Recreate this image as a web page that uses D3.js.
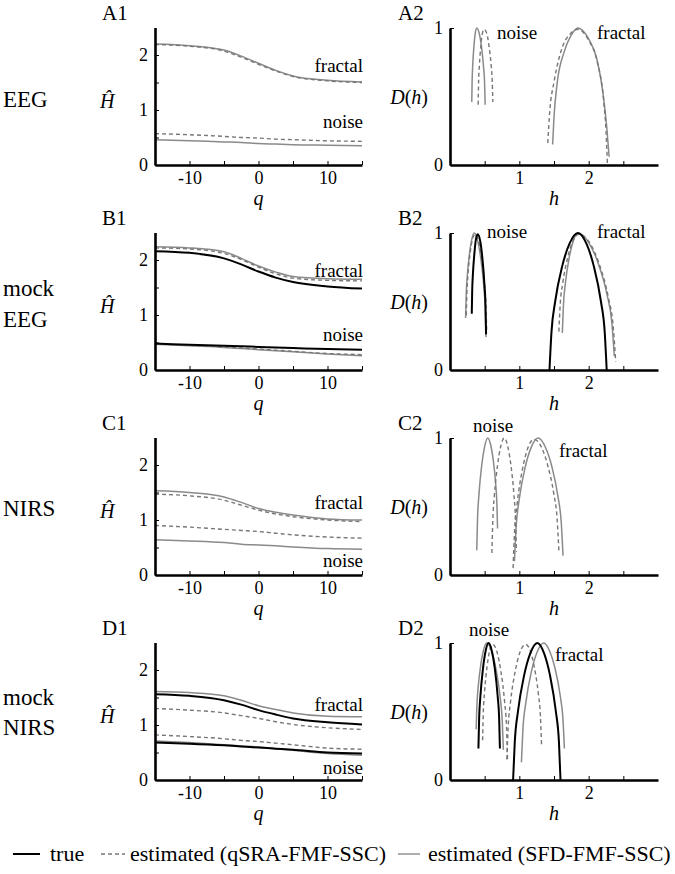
<!DOCTYPE html>
<html>
<head>
<meta charset="utf-8">
<script src="https://cdn.jsdelivr.net/npm/d3@7"></script>
<style>
  body { margin: 0; background: #fff; }
</style>
</head>
<body>
<div id="chart"></div>
<script>
// q grid shared by all generalized Hurst curves
const qValues = [-15, -10, -5, -2.5, 0, 2.5, 5, 10, 15];

// A: EEG
const eegFractalSfd  = [2.20, 2.17, 2.09, 1.98, 1.85, 1.72, 1.62, 1.54, 1.51];
const eegFractalQsra = [2.19, 2.16, 2.07, 1.96, 1.83, 1.71, 1.61, 1.53, 1.50];
const eegNoiseQsra   = [0.57, 0.55, 0.52, 0.50, 0.49, 0.47, 0.46, 0.44, 0.43];
const eegNoiseSfd    = [0.46, 0.44, 0.42, 0.41, 0.39, 0.38, 0.37, 0.36, 0.35];

// B: mock EEG
const mockEegFractalSfd  = [2.24, 2.22, 2.15, 2.03, 1.89, 1.78, 1.70, 1.66, 1.65];
const mockEegFractalQsra = [2.22, 2.20, 2.12, 2.01, 1.87, 1.75, 1.67, 1.63, 1.62];
const mockEegFractalTrue = [2.16, 2.13, 2.03, 1.92, 1.79, 1.68, 1.60, 1.52, 1.48];
const mockEegNoiseTrue   = [0.48, 0.46, 0.44, 0.43, 0.42, 0.41, 0.40, 0.38, 0.37];
const mockEegNoiseSfd    = [0.47, 0.44, 0.41, 0.39, 0.37, 0.35, 0.33, 0.29, 0.26];
const mockEegNoiseQsra   = [0.48, 0.45, 0.42, 0.40, 0.38, 0.36, 0.34, 0.30, 0.28];

// C: NIRS
const nirsFractalSfd  = [1.53, 1.50, 1.42, 1.32, 1.21, 1.14, 1.09, 1.02, 1.00];
const nirsFractalQsra = [1.47, 1.44, 1.36, 1.27, 1.18, 1.11, 1.06, 1.00, 0.97];
const nirsNoiseQsra   = [0.90, 0.87, 0.83, 0.81, 0.79, 0.76, 0.73, 0.69, 0.67];
const nirsNoiseSfd    = [0.64, 0.62, 0.59, 0.56, 0.545, 0.53, 0.51, 0.48, 0.47];

// D: mock NIRS
const mockNirsFractalSfd  = [1.61, 1.59, 1.53, 1.45, 1.35, 1.28, 1.22, 1.16, 1.15];
const mockNirsFractalTrue = [1.56, 1.53, 1.45, 1.37, 1.27, 1.19, 1.12, 1.05, 1.01];
const mockNirsFractalQsra = [1.30, 1.27, 1.22, 1.17, 1.12, 1.06, 1.01, 0.95, 0.92];
const mockNirsNoiseQsra   = [0.82, 0.79, 0.75, 0.72, 0.70, 0.67, 0.64, 0.58, 0.56];
const mockNirsNoiseTrue   = [0.68, 0.66, 0.63, 0.61, 0.59, 0.57, 0.55, 0.50, 0.48];
const mockNirsNoiseSfd    = [0.71, 0.68, 0.64, 0.62, 0.60, 0.57, 0.54, 0.48, 0.45];

// multifractal spectra, [h, D(h)] pairs
const eegNoiseSfdSpec = [[.314,.46],[.319,.61],[.328,.73],[.346,.87],[.364,.96],[.386,1],[.422,.96],[.453,.87],[.483,.72],[.499,.60],[.507,.44]];
const eegNoiseQsraSpec = [[.406,.44],[.412,.60],[.423,.72],[.445,.87],[.467,.96],[.493,.99],[.531,.96],[.562,.87],[.593,.73],[.609,.61],[.618,.46]];
const eegFractalSfdSpec = [[1.48,.15],[1.50,.35],[1.546,.60],[1.643,.82],[1.74,.94],[1.845,1],[2.0,.92],[2.12,.77],[2.22,.47],[2.26,.28],[2.295,.06]];
const eegFractalQsraSpec = [[1.41,.16],[1.44,.40],[1.498,.60],[1.62,.86],[1.74,.96],[1.845,.99],[2.0,.91],[2.12,.76],[2.22,.45],[2.25,.25],[2.27,.01]];

const mockEegNoiseTrueSpec = [[.314,.41],[.32,.575],[.331,.705],[.353,.858],[.374,.953],[.40,.99],[.436,.941],[.466,.822],[.496,.63],[.512,.467],[.52,.26]];
const mockEegNoiseSfdSpec = [[.225,.38],[.234,.554],[.25,.69],[.281,.851],[.3125,.95],[.35,1],[.401,.939],[.4435,.818],[.486,.62],[.508,.453],[.52,.24]];
const mockEegNoiseQsraSpec = [[.235,.40],[.244,.568],[.26,.70],[.291,.856],[.3225,.952],[.36,.99],[.411,.942],[.4535,.825],[.496,.635],[.518,.474],[.53,.27]];
const mockEegFractalTrueSpec = [[1.435,0],[1.464,.28],[1.517,.50],[1.6195,.76],[1.722,.92],[1.845,1],[1.9695,.92],[2.073,.76],[2.177,.50],[2.231,.28],[2.26,0]];
const mockEegFractalSfdSpec = [[1.62,.27],[1.636,.474],[1.665,.635],[1.721,.825],[1.7775,.942],[1.845,1],[2.0025,.928],[2.134,.784],[2.265,.55],[2.333,.352],[2.37,.10]];
const mockEegFractalQsraSpec = [[1.57,.28],[1.59,.482],[1.628,.64],[1.7005,.827],[1.773,.942],[1.86,.99],[2.019,.925],[2.1515,.774],[2.284,.53],[2.353,.323],[2.39,.06]];

const nirsNoiseSfdSpec = [[.386,.18],[.397,.41],[.418,.59],[.458,.803],[.498,.934],[.546,1],[.588,.947],[.623,.842],[.658,.67],[.676,.525],[.686,.34]];
const nirsNoiseQsraSpec = [[.604,.16],[.617,.395],[.64,.58],[.685,.798],[.729,.933],[.783,1],[.835,.934],[.879,.80],[.922,.585],[.945,.402],[.957,.17]];
const nirsFractalSfdSpec = [[.93,.10],[.954,.352],[.998,.55],[1.083,.784],[1.168,.928],[1.27,1],[1.378,.931],[1.468,.794],[1.558,.57],[1.605,.381],[1.63,.14]];
const nirsFractalQsraSpec = [[.91,.05],[.931,.316],[.97,.525],[1.045,.772],[1.12,.924],[1.21,.99],[1.318,.934],[1.408,.803],[1.498,.59],[1.545,.41],[1.57,.18]];

const mockNirsNoiseTrueSpec = [[.41,.23],[.42,.446],[.439,.615],[.476,.815],[.512,.938],[.556,1],[.605,.938],[.646,.815],[.687,.615],[.709,.446],[.72,.23]];
const mockNirsNoiseSfdSpec = [[.377,.37],[.388,.546],[.408,.685],[.446,.849],[.484,.95],[.53,1],[.602,.938],[.662,.813],[.722,.61],[.753,.438],[.77,.22]];
const mockNirsNoiseQsraSpec = [[.47,.29],[.48,.489],[.499,.645],[.535,.83],[.5715,.943],[.615,.99],[.6795,.932],[.733,.796],[.787,.575],[.815,.388],[.83,.15]];
const mockNirsFractalTrueSpec = [[.91,0],[.9345,.28],[.98,.50],[1.0675,.76],[1.155,.92],[1.26,1],[1.36,.92],[1.4437,.76],[1.527,.50],[1.571,.28],[1.594,0]];
const mockNirsFractalSfdSpec = [[1.03,.13],[1.052,.374],[1.094,.565],[1.174,.791],[1.254,.93],[1.35,1],[1.44,.938],[1.515,.815],[1.59,.615],[1.629,.446],[1.65,.23]];
const mockNirsFractalQsraSpec = [[.82,.15],[.839,.388],[.874,.575],[.9415,.796],[1.009,.932],[1.09,.99],[1.159,.941],[1.2165,.822],[1.274,.63],[1.304,.467],[1.32,.26]];

// tick values
const qTicks = [-10, -5, 0, 5, 10, 15];
const qTickLabels = [-10, 0, 10];
const hurstTicks = [0, 0.5, 1, 1.5, 2];
const hurstTickLabels = [0, 1, 2];
const hTicks = [0.5, 1, 1.5, 2, 2.5];
const hTickLabels = [1, 2];
const dTicks = [0, 1];

const legendItems = ["true", "estimated (qSRA-FMF-SSC)", "estimated (SFD-FMF-SSC)"];

// line styles per estimator
const styles = {
    "true": {stroke: "#000", width: 2, dash: null},
    "qsra": {stroke: "#777", width: 1.4, dash: "4,3"},
    "sfd":  {stroke: "#8a8a8a", width: 1.5, dash: null}
};

// rows of the figure (layout in px relative to row top)
const rows = [
    {tag: "A", name: ["EEG"], nameY: [107],
     hurst: [["sfd", eegFractalSfd], ["qsra", eegFractalQsra], ["qsra", eegNoiseQsra], ["sfd", eegNoiseSfd]],
     spec: [["sfd", eegNoiseSfdSpec], ["qsra", eegNoiseQsraSpec], ["sfd", eegFractalSfdSpec], ["qsra", eegFractalQsraSpec]],
     l1: {fractal: 72, noise: 128}, l2: {noise: [497, 39], fractal: [597, 39]}},
    {tag: "B", name: ["mock", "EEG"], nameY: [91, 122],
     hurst: [["sfd", mockEegFractalSfd], ["qsra", mockEegFractalQsra], ["true", mockEegFractalTrue],
             ["sfd", mockEegNoiseSfd], ["qsra", mockEegNoiseQsra], ["true", mockEegNoiseTrue]],
     spec: [["sfd", mockEegNoiseSfdSpec], ["qsra", mockEegNoiseQsraSpec], ["true", mockEegNoiseTrueSpec],
            ["sfd", mockEegFractalSfdSpec], ["qsra", mockEegFractalQsraSpec], ["true", mockEegFractalTrueSpec]],
     l1: {fractal: 72, noise: 136}, l2: {noise: [487, 33], fractal: [597, 33]}},
    {tag: "C", name: ["NIRS"], nameY: [106],
     hurst: [["sfd", nirsFractalSfd], ["qsra", nirsFractalQsra], ["qsra", nirsNoiseQsra], ["sfd", nirsNoiseSfd]],
     spec: [["sfd", nirsNoiseSfdSpec], ["qsra", nirsNoiseQsraSpec], ["sfd", nirsFractalSfdSpec], ["qsra", nirsFractalQsraSpec]],
     l1: {fractal: 99, noise: 157}, l2: {noise: [473, 22], fractal: [559, 47]}},
    {tag: "D", name: ["mock", "NIRS"], nameY: [90, 120],
     hurst: [["sfd", mockNirsFractalSfd], ["qsra", mockNirsFractalQsra], ["true", mockNirsFractalTrue],
             ["sfd", mockNirsNoiseSfd], ["qsra", mockNirsNoiseQsra], ["true", mockNirsNoiseTrue]],
     spec: [["sfd", mockNirsNoiseSfdSpec], ["qsra", mockNirsNoiseQsraSpec], ["true", mockNirsNoiseTrueSpec],
            ["sfd", mockNirsFractalSfdSpec], ["qsra", mockNirsFractalQsraSpec], ["true", mockNirsFractalTrueSpec]],
     l1: {fractal: 96, noise: 159}, l2: {noise: [469, 21], fractal: [555, 46]}}
];

const width = 675, height = 874, rowStep = 205;
const plotTop = 27.5, plotBottom = 165;
const serif = '"Liberation Serif"';

const svg = d3.select("#chart")
    .append("svg")
    .attr("width", width)
    .attr("height", height);

svg.append("rect").attr("width", width).attr("height", height).attr("fill", "#fff");

// scales (shared by every row, rows are shifted with a transform)
const xq = d3.scaleLinear().domain([-15, 15]).range([155, 362]);
const yH = d3.scaleLinear().domain([0, 2.5]).range([plotBottom, plotTop]);
const xh = d3.scaleLinear().domain([0, 3]).range([450, 658]);
const yD = d3.scaleLinear().domain([0, 1]).range([plotBottom, 28]);

function styleAxis(g) {
    g.attr("font-family", null).attr("font-size", null);
    g.select(".domain").attr("stroke", "#000").attr("stroke-width", 2.6);
    g.selectAll(".tick line").attr("stroke", "#000").attr("stroke-width", 1);
    g.selectAll(".tick text")
        .style("font-family", serif)
        .style("font-size", "18px")
        .attr("fill", "#000");
}

function label(g, x, y, size, t) {
    return g.append("text")
        .attr("x", x).attr("y", y)
        .style("font-family", serif)
        .style("font-size", size + "px")
        .attr("fill", "#000")
        .text(t);
}

function drawCurve(g, pts, x, y, key) {
    const s = styles[key];
    g.append("path")
        .datum(pts)
        .attr("fill", "none")
        .attr("stroke", s.stroke)
        .attr("stroke-width", s.width)
        .attr("stroke-dasharray", s.dash)
        .attr("d", d3.line().x(d => x(d[0])).y(d => y(d[1])).curve(d3.curveMonotoneX));
}

const ord = {sfd: 0, qsra: 1, "true": 2};

rows.forEach((row, i) => {
    const g = svg.append("g").attr("transform", `translate(0, ${i * rowStep})`);

    // row name
    row.name.forEach((t, j) => label(g, 3, row.nameY[j], 23, t));

    // panel tags
    label(g, 102, 20, 21, row.tag + "1");
    label(g, 398, 20, 21, row.tag + "2");

    // ---- left panel: H(q)
    row.hurst.slice().sort((a, b) => ord[a[0]] - ord[b[0]])
        .forEach(c => drawCurve(g, qValues.map((q, k) => [q, c[1][k]]), xq, yH, c[0]));

    g.append("g")
        .attr("transform", `translate(0, ${plotBottom})`)
        .call(d3.axisBottom(xq).tickValues(qTicks).tickSizeInner(-4).tickSizeOuter(0).tickPadding(6)
            .tickFormat(d => qTickLabels.includes(d) ? String(d) : ""))
        .call(styleAxis);

    g.append("g")
        .attr("transform", `translate(${xq(-15)}, 0)`)
        .call(d3.axisLeft(yH).tickValues(hurstTicks).tickSizeInner(-4).tickSizeOuter(0).tickPadding(7)
            .tickFormat(d => hurstTickLabels.includes(d) ? String(d) : ""))
        .call(styleAxis);

    label(g, 363, row.l1.fractal, 19, "fractal").attr("text-anchor", "end");
    label(g, 363, row.l1.noise, 19, "noise").attr("text-anchor", "end");

    label(g, 100, 108, 20, "Ĥ").style("font-style", "italic");
    label(g, xq(0), 205, 20, "q").attr("text-anchor", "middle").style("font-style", "italic");

    // ---- right panel: D(h)
    row.spec.slice().sort((a, b) => ord[a[0]] - ord[b[0]])
        .forEach(c => drawCurve(g, c[1], xh, yD, c[0]));

    g.append("g")
        .attr("transform", `translate(0, ${plotBottom})`)
        .call(d3.axisBottom(xh).tickValues(hTicks).tickSizeInner(-4).tickSizeOuter(0).tickPadding(6)
            .tickFormat(d => hTickLabels.includes(d) ? String(d) : ""))
        .call(styleAxis);

    g.append("g")
        .attr("transform", `translate(${xh(0)}, 0)`)
        .call(d3.axisLeft(yD).tickValues(dTicks).tickSizeInner(-4).tickSizeOuter(0).tickPadding(7)
            .tickFormat(d => String(d)))
        .call(styleAxis);

    label(g, row.l2.noise[0], row.l2.noise[1], 19, "noise");
    label(g, row.l2.fractal[0], row.l2.fractal[1], 19, "fractal");

    const dl = label(g, 428, 104, 20, "").attr("text-anchor", "end");
    dl.append("tspan").style("font-style", "italic").text("D");
    dl.append("tspan").text("(");
    dl.append("tspan").style("font-style", "italic").text("h");
    dl.append("tspan").text(")");

    label(g, xh(1.5), 205, 20, "h").attr("text-anchor", "middle").style("font-style", "italic");
});

// legend
const legend = svg.append("g").attr("transform", "translate(0, 861)");
const legendKeys = ["true", "qsra", "sfd"];
const legendX = [13, 101, 398];     // key line start
const legendLen = [27, 24, 22];     // key line length
const legendTextX = [50, 130, 428];
legendItems.forEach((t, i) => {
    const s = styles[legendKeys[i]];
    legend.append("line")
        .attr("x1", legendX[i]).attr("x2", legendX[i] + legendLen[i])
        .attr("y1", -7).attr("y2", -7)
        .attr("stroke", s.stroke).attr("stroke-width", i === 0 ? 2 : 1.4)
        .attr("stroke-dasharray", s.dash);
    label(legend, legendTextX[i], 0, 22, t);
});
</script>
</body>
</html>
